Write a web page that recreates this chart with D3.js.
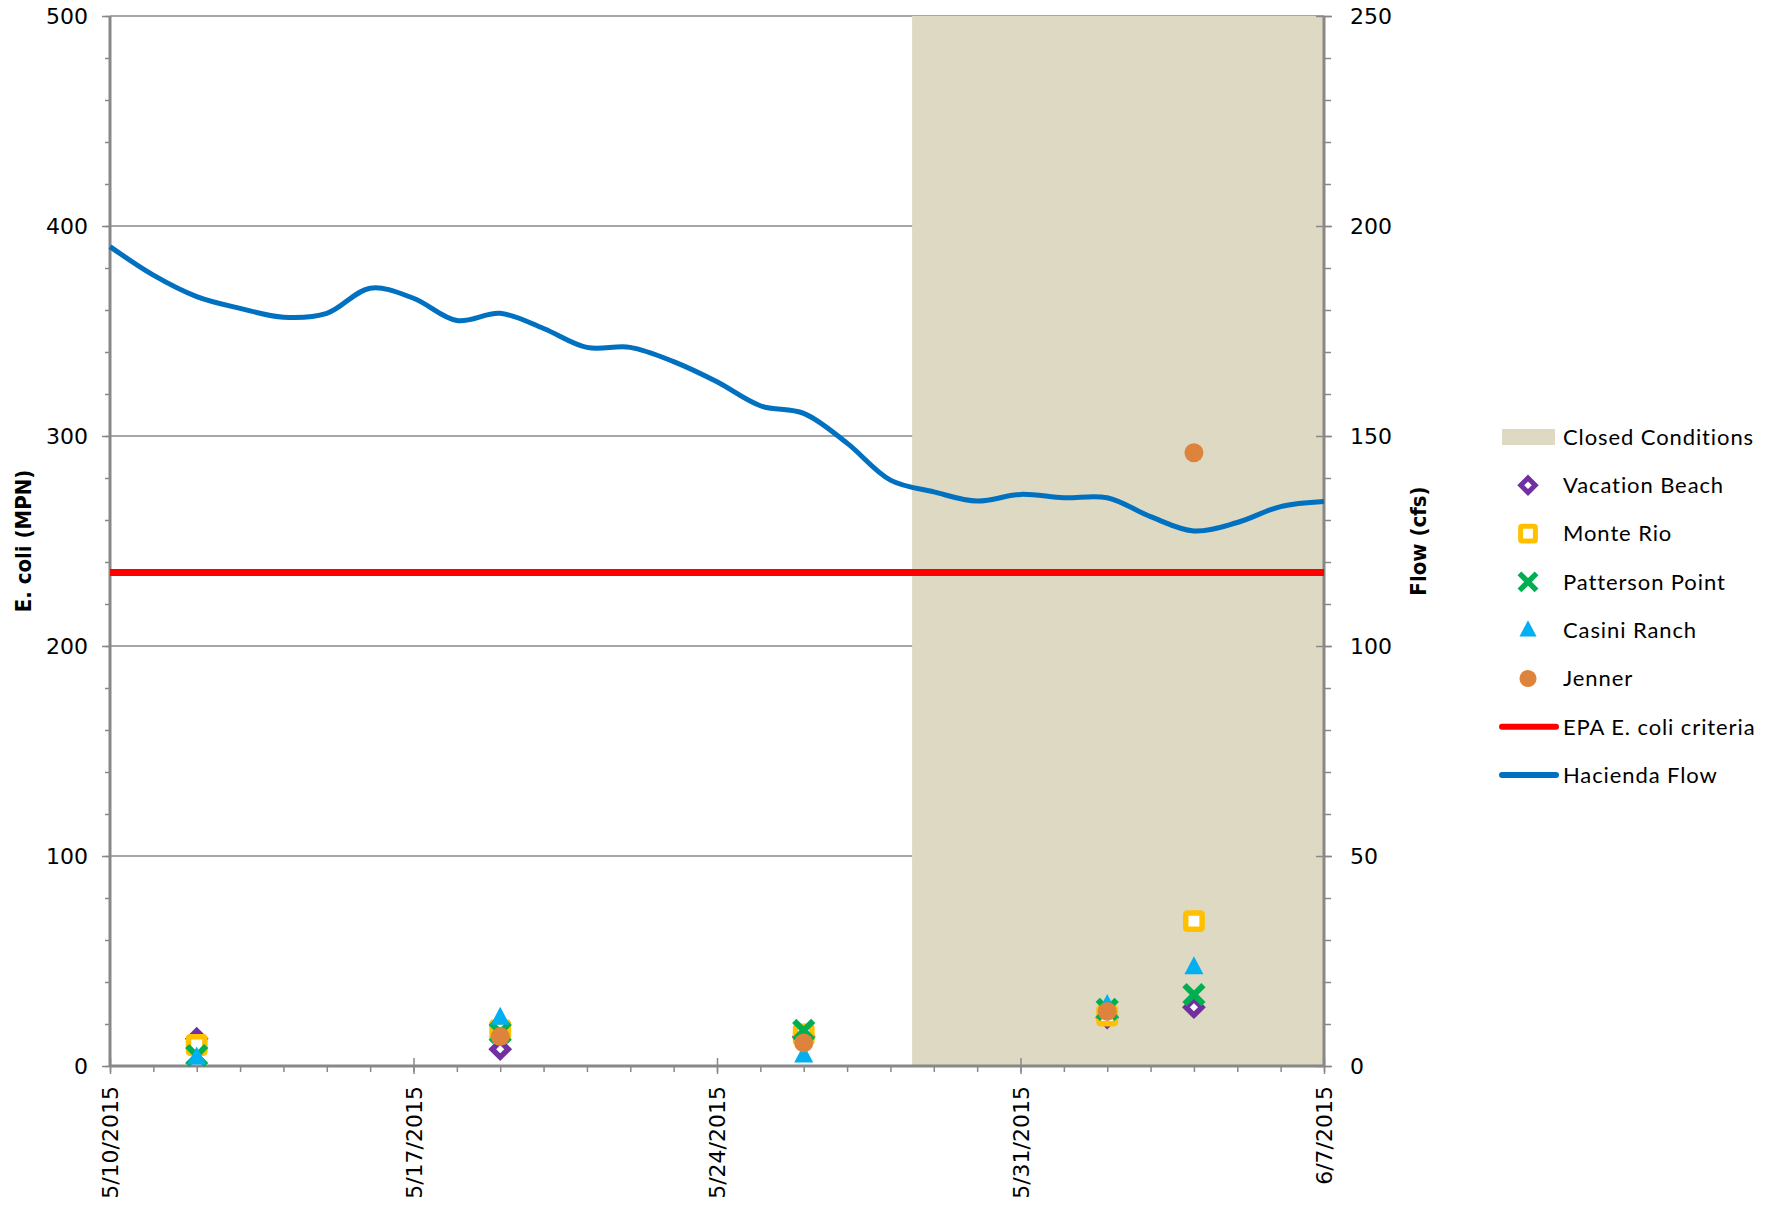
<!DOCTYPE html>
<html>
<head>
<meta charset="utf-8">
<script src="https://cdn.jsdelivr.net/npm/d3@7"></script>
<style>
  body { margin: 0; background: #fff; }
  svg { display: block; }
</style>
</head>
<body>
<div id="chart"></div>
<script>
// sample dates and E. coli readings (MPN)
var sampleDates = ["2015-05-12", "2015-05-19", "2015-05-26", "2015-06-02", "2015-06-04"];
var vacationBeach = [13, 8, 14, 23, 28];
var monteRio = [10, 17, 15, 24, 69];
var pattersonPoint = [5, 16, 17, 27, 34];
var casiniRanch = [4, 23, 5, 29, 47];
var jenner = [null, 14, 11, 26, 292];

// daily Hacienda flow (cfs), 5/10 to 6/7
var flowStart = "2015-05-10";
var haciendaFlow = [195.1, 188.3, 183.2, 180.4, 178.3, 179.2, 185.2, 182.8, 177.5, 179.2,
  175.6, 171.1, 171.1, 167.7, 162.9, 157.2, 155.4, 148.3, 139.5, 136.7,
  134.5, 136.1, 135.3, 135.3, 130.8, 127.4, 129.4, 133.2, 134.4];

var epaCriteria = 235;
var closedStart = "2015-05-28T12:00";
var closedEnd = "2015-06-07";

var xTickDates = ["2015-05-10", "2015-05-17", "2015-05-24", "2015-05-31", "2015-06-07"];
var leftTicks = [0, 100, 200, 300, 400, 500];
var rightTicks = [0, 50, 100, 150, 200, 250];

var parse = d3.isoParse;

// set the dimensions and margins of the graph
var margin = {top: 16, right: 455, bottom: 139, left: 110};
var W = 1779, H = 1205;
var width = W - margin.left - margin.right;
var height = H - margin.top - margin.bottom;

var svg = d3.select("#chart")
  .append("svg")
    .attr("width", W)
    .attr("height", H)
  .append("g")
    .attr("transform", "translate(" + margin.left + "," + margin.top + ")");

var x = d3.scaleTime()
    .domain([parse("2015-05-10"), parse("2015-06-07")])
    .range([0, width]);
var y = d3.scaleLinear().domain([0, 500]).range([height, 0]);
var y2 = d3.scaleLinear().domain([0, 250]).range([height, 0]);

var axisColor = "#888";
var tickFont = "'DejaVu Sans', sans-serif";

// horizontal gridlines
svg.append("g").selectAll("line")
  .data(leftTicks.slice(1))
  .enter().append("line")
    .attr("x1", 0).attr("x2", width)
    .attr("y1", function(d) { return y(d); })
    .attr("y2", function(d) { return y(d); })
    .attr("stroke", axisColor).attr("stroke-width", 1.5);

// closed conditions band
svg.append("rect")
    .attr("x", x(parse(closedStart)))
    .attr("y", 0)
    .attr("width", x(parse(closedEnd)) - x(parse(closedStart)))
    .attr("height", height)
    .style("fill", "#DDD9C3");

// minor ticks
var minorY = d3.range(0, 501, 20);
var minorY2 = d3.range(0, 251, 10);
var days = d3.timeDay.range(parse("2015-05-10"), d3.timeDay.offset(parse("2015-06-07"), 1));

// left axis
var gl = svg.append("g")
    .call(d3.axisLeft(y).tickValues(minorY).tickSize(5).tickFormat(""));
gl.select(".domain").remove();
gl.selectAll("line").attr("stroke", axisColor).attr("stroke-width", 1.5);
var gl2 = svg.append("g")
    .call(d3.axisLeft(y).tickValues(leftTicks).tickSize(8).tickPadding(14));
gl2.select(".domain").attr("stroke", axisColor).attr("stroke-width", 3).attr("d", "M0," + height + "V0");
gl2.selectAll("line").attr("stroke", axisColor).attr("stroke-width", 1.5);
gl2.selectAll("text").style("font-family", tickFont).style("font-size", "22px").attr("fill", "#000");

// right axis
var gr = svg.append("g")
    .attr("transform", "translate(" + width + ",0)")
    .call(d3.axisRight(y2).tickValues(minorY2).tickSize(7).tickFormat(""));
gr.select(".domain").remove();
gr.selectAll("line").attr("stroke", axisColor).attr("stroke-width", 1.5);
var gr2 = svg.append("g")
    .attr("transform", "translate(" + width + ",0)")
    .call(d3.axisRight(y2).tickValues(rightTicks).tickSize(8).tickPadding(18));
gr2.select(".domain").attr("stroke", axisColor).attr("stroke-width", 3).attr("d", "M0," + height + "V0");
gr2.selectAll("line").attr("stroke", axisColor).attr("stroke-width", 1.5).attr("x1", -8);
gr2.selectAll("text").style("font-family", tickFont).style("font-size", "22px").attr("fill", "#000");

// bottom axis
var gb = svg.append("g")
    .attr("transform", "translate(0," + height + ")")
    .call(d3.axisBottom(x).tickValues(days).tickSize(6).tickFormat(""));
gb.select(".domain").remove();
gb.selectAll("line").attr("stroke", axisColor).attr("stroke-width", 1.5);
var gb2 = svg.append("g")
    .attr("transform", "translate(0," + height + ")")
    .call(d3.axisBottom(x).tickValues(xTickDates.map(parse)).tickSize(8)
      .tickFormat(d3.timeFormat("%-m/%-d/%Y")));
gb2.select(".domain").attr("stroke", axisColor).attr("stroke-width", 3).attr("d", "M0,0H" + width);
gb2.selectAll("line").attr("stroke", axisColor).attr("stroke-width", 1.5).attr("y1", -8);
gb2.selectAll("text")
    .style("font-family", tickFont).style("font-size", "22px").attr("fill", "#000")
    .attr("text-anchor", "end")
    .attr("transform", "rotate(-90)")
    .attr("x", -20).attr("y", 0).attr("dy", "0.35em");

// axis titles
svg.append("text")
    .attr("transform", "translate(" + (23 - margin.left) + "," + (height / 2) + ") rotate(-90)")
    .attr("text-anchor", "middle").attr("dy", "0.35em")
    .style("font-family", "'Liberation Sans Narrow', 'DejaVu Sans Condensed', sans-serif")
    .style("font-weight", "bold").style("font-size", "22px")
    .text("E. coli (MPN)");
svg.append("text")
    .attr("transform", "translate(" + (1418 - margin.left) + "," + (height / 2) + ") rotate(-90)")
    .attr("text-anchor", "middle").attr("dy", "0.35em")
    .style("font-family", "'Liberation Sans Narrow', 'DejaVu Sans Condensed', sans-serif")
    .style("font-weight", "bold").style("font-size", "22px")
    .text("Flow (cfs)");

// EPA criteria line
svg.append("line")
    .attr("x1", 0).attr("x2", width)
    .attr("y1", y(epaCriteria)).attr("y2", y(epaCriteria))
    .attr("stroke", "#FF0000").attr("stroke-width", 7);

// flow line
var flowData = haciendaFlow.map(function(v, i) {
  return {date: d3.timeDay.offset(parse(flowStart), i), value: v};
});
svg.append("path")
    .datum(flowData)
    .attr("fill", "none")
    .attr("stroke", "#0070C0")
    .attr("stroke-width", 5)
    .attr("d", d3.line()
      .x(function(d) { return x(d.date); })
      .y(function(d) { return y2(d.value); })
      .curve(d3.curveCatmullRom.alpha(0.5)));

// marker drawing
function drawMarker(g, type, k) {
  k = k || 1;
  if (type === "diamond") {
    g.append("path").attr("d", "M0,-8L8,0L0,8L-8,0Z")
      .attr("transform", "scale(" + k + ")")
      .attr("fill", "#fff").attr("stroke", "#7030A0").attr("stroke-width", 5.5);
  } else if (type === "square") {
    g.append("rect").attr("x", -8.2).attr("y", -8.2).attr("width", 16.4).attr("height", 16.4)
      .attr("transform", "scale(" + k + ")")
      .attr("rx", 1.5)
      .attr("fill", "#fff").attr("stroke", "#FFC000").attr("stroke-width", 5.5);
  } else if (type === "x") {
    g.append("path").attr("d", "M-9.5,-9.5L9.5,9.5M9.5,-9.5L-9.5,9.5")
      .attr("transform", "scale(" + k + ")")
      .attr("stroke", "#00B050").attr("stroke-width", 6).attr("fill", "none");
  } else if (type === "triangle") {
    g.append("path").attr("d", "M0,-11L9.5,7L-9.5,7Z")
      .attr("transform", "scale(" + k + ")")
      .attr("fill", "#00B0F0");
  } else if (type === "circle") {
    g.append("circle").attr("r", 9.5 * k).attr("fill", "#DD833C");
  }
}

var series = [
  {name: "Vacation Beach", values: vacationBeach, type: "diamond"},
  {name: "Monte Rio", values: monteRio, type: "square"},
  {name: "Patterson Point", values: pattersonPoint, type: "x"},
  {name: "Casini Ranch", values: casiniRanch, type: "triangle"},
  {name: "Jenner", values: jenner, type: "circle"}
];

series.forEach(function(s) {
  s.values.forEach(function(v, i) {
    if (v === null) return;
    var g = svg.append("g")
        .attr("transform", "translate(" + x(parse(sampleDates[i])) + "," + y(v) + ")");
    drawMarker(g, s.type);
  });
});

// legend
var legend = d3.select("svg").append("g").attr("transform", "translate(1500,437)");
var legendItems = [{name: "Closed Conditions", type: "band"}]
  .concat(series)
  .concat([{name: "EPA E. coli criteria", type: "red"}, {name: "Hacienda Flow", type: "blue"}]);

legendItems.forEach(function(d, i) {
  var g = legend.append("g").attr("transform", "translate(0," + (i * 48.3) + ")");
  if (d.type === "band") {
    g.append("rect").attr("x", 2).attr("y", -8).attr("width", 53).attr("height", 16).attr("fill", "#DDD9C3");
  } else if (d.type === "red" || d.type === "blue") {
    g.append("line").attr("x1", 2).attr("x2", 56).attr("y1", 0).attr("y2", 0)
      .attr("stroke", d.type === "red" ? "#FF0000" : "#0070C0")
      .attr("stroke-width", 6).attr("stroke-linecap", "round");
  } else {
    var m = g.append("g").attr("transform", "translate(28,0)");
    drawMarker(m, d.type, 0.9);
  }
  g.append("text")
    .attr("x", 63).attr("dy", "0.35em")
    .style("font-family", "Lato, sans-serif").style("font-size", "22px")
    .style("letter-spacing", "0.9px")
    .text(d.name);
});
</script>
</body>
</html>
